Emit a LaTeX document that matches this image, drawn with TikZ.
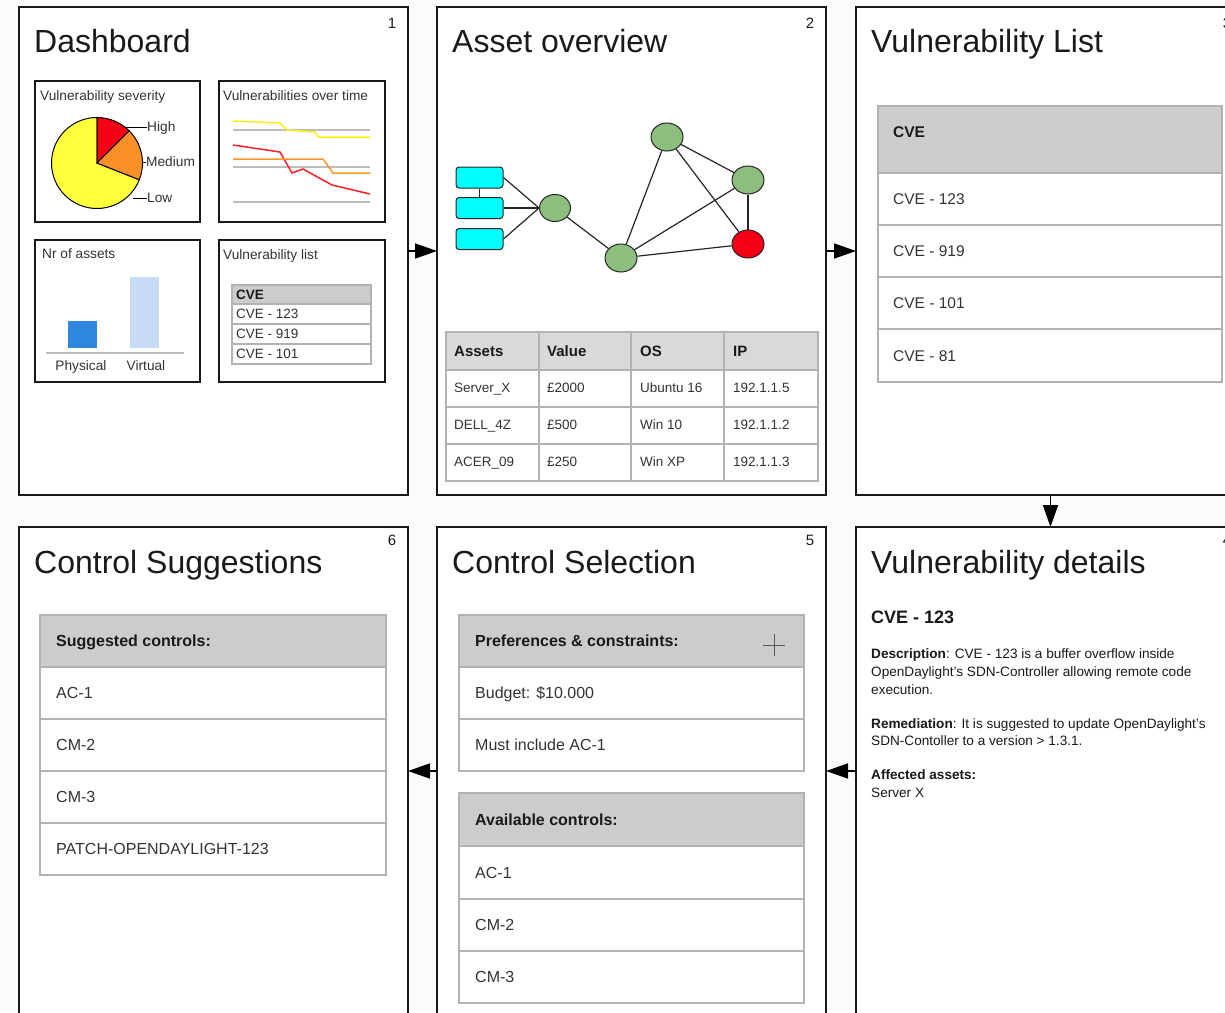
\documentclass[tikz,border=0pt]{standalone}
\usepackage{fontspec}
\setmainfont{Liberation Sans}
\usetikzlibrary{arrows.meta,shapes.geometric}
\newcommand{\setfs}[1]{\fontsize{#1}{#1}\selectfont}
\definecolor{bg}{RGB}{252,251,249}
\definecolor{txt}{RGB}{51,51,51}
\definecolor{ttl}{RGB}{26,26,26}
\definecolor{tgray}{RGB}{178,178,178}
\definecolor{hdr}{RGB}{204,204,204}
\definecolor{hdrlight}{RGB}{217,217,217}
\definecolor{pred}{RGB}{245,0,20}
\definecolor{porange}{RGB}{250,145,40}
\definecolor{pyellow}{RGB}{255,255,60}
\definecolor{ngreen}{RGB}{140,190,125}
\definecolor{ncyan}{RGB}{0,255,255}
\definecolor{bdark}{RGB}{46,134,222}
\definecolor{blight}{RGB}{198,219,245}
\definecolor{lgray}{RGB}{190,190,190}
\definecolor{lyellow}{RGB}{250,240,20}
\definecolor{lred}{RGB}{255,30,40}
\definecolor{lorange}{RGB}{255,150,40}
\begin{document}
\begin{tikzpicture}[x=1pt,y=-1pt,
  panel/.style={draw=black!90, line width=1.4pt, fill=white, minimum width=389pt, minimum height=488pt, anchor=north west, inner sep=0pt, outer sep=0pt},
  subbox/.style={draw=black!90, line width=1.3pt, fill=white, anchor=north west, inner sep=0pt, outer sep=0pt},
  ttlnode/.style={anchor=base west, inner sep=0pt, text=ttl, font=\setfs{32}},
  numnode/.style={anchor=base, inner sep=0pt, text=ttl, font=\setfs{15}},
  lbl/.style={anchor=base west, inner sep=0pt, text=txt, font=\setfs{13.7}},
  plbl/.style={anchor=west, inner sep=0pt, text=txt, font=\setfs{13.7}, text height=9.8pt, text depth=0pt},
  grid/.style={draw=tgray, line width=1.3pt},
  hd/.style={anchor=west, inner sep=0pt, text=ttl, font=\setfs{16}\bfseries, text height=11.5pt, text depth=0pt},
  rw/.style={anchor=west, inner sep=0pt, text=txt, font=\setfs{16}, text height=11.5pt, text depth=0pt},
  hds/.style={anchor=west, inner sep=0pt, text=ttl, font=\setfs{15}\bfseries, text height=10.7pt, text depth=0pt},
  rws/.style={anchor=west, inner sep=0pt, text=txt, font=\setfs{13.5}, text height=9.7pt, text depth=0pt},
  det/.style={anchor=base west, inner sep=0pt, text=ttl, font=\setfs{13.6}},
  dev/.style={rectangle, rounded corners=3pt, draw=black!85, line width=1pt, fill=ncyan, minimum width=47pt, minimum height=21pt, inner sep=0pt},
  gnode/.style={ellipse, draw=black!85, line width=1pt, fill=ngreen, minimum width=32pt, minimum height=28pt, inner sep=0pt},
  gedge/.style={draw=black!85, line width=1.2pt},
  arr/.style={-{Triangle[length=22pt,width=15pt]}, line width=1.6pt, draw=black},
]
\useasboundingbox (0,0) rectangle (1225,1012);
\clip (0,0) rectangle (1225,1012);
\fill[bg] (0,0) rectangle (1225,1012);

% ---------- panels ----------
\node[panel] (p1) at (19,7) {};
\node[panel] (p2) at (437,7) {};
\node[panel] (p3) at (856,7) {};
\node[panel] (p6) at (19,527) {};
\node[panel] (p5) at (437,527) {};
\node[panel] (p4) at (856,527) {};

% ---------- arrows ----------
\draw[arr] (p1.east) -- (p2.west);
\draw[arr] (p2.east) -- (p3.west);
\draw[arr] (p3.south) -- (p4.north);
\draw[arr] (p4.west) -- (p5.east);
\draw[arr] (p5.west) -- (p6.east);

% ---------- panel 1: Dashboard ----------
\node[ttlnode] (t1) at (34,52) {Dashboard};
\node[numnode] (n1) at (392,28) {1};

\node[subbox, minimum width=165pt, minimum height=141pt] (sb1) at (35,81) {};
\node[subbox, minimum width=166pt, minimum height=141pt] (sb2) at (219,81) {};
\node[subbox, minimum width=165pt, minimum height=142pt] (sb3) at (35,240) {};
\node[subbox, minimum width=166pt, minimum height=142pt] (sb4) at (219,240) {};

\node[lbl] (s1) at (40,100) {Vulnerability severity};
\node[lbl] (s2) at (223,100) {Vulnerabilities over time};
\node[lbl] (s3) at (42,258) {Nr of assets};
\node[lbl] (s4) at (223,259) {Vulnerability list};

% pie
\filldraw[fill=pyellow, draw=black, line width=1pt] (97,163) -- ++(21.6:45.5) arc[start angle=21.6, end angle=270, radius=45.5] -- cycle;
\filldraw[fill=pred, draw=black, line width=1pt] (97,163) -- ++(-90:45.5) arc[start angle=-90, end angle=-45, radius=45.5] -- cycle;
\filldraw[fill=porange, draw=black, line width=1pt] (97,163) -- ++(-45:45.5) arc[start angle=-45, end angle=21.6, radius=45.5] -- cycle;
\node[plbl] (lh) at (147,127) {High};
\node[plbl] (lm) at (146,162) {Medium};
\node[plbl] (ll) at (147,198) {Low};
\draw[line width=1pt] (125,127) -- (lh.west);
\draw[line width=1pt] (142.5,162) -- (lm.west);
\draw[line width=1pt] (133,198) -- (ll.west);

% line chart
\draw[lgray, line width=1.2pt] (233,130) -- (370,130);
\draw[lgray, line width=1.2pt] (233,167) -- (370,167);
\draw[lgray, line width=1.2pt] (233,202) -- (370,202);
\draw[lyellow, line width=1.5pt] (233,121) -- (280,123) -- (287,130) -- (315,132) -- (318,137) -- (370,137);
\draw[lred, line width=1.5pt] (233,145) -- (280,152) -- (292,173) -- (303,169) -- (332,185) -- (370,194);
\draw[lorange, line width=1.5pt] (233,159) -- (323,159) -- (333,173) -- (370,173);

% bar chart
\fill[bdark] (68,321) rectangle (97,348);
\fill[blight] (130,277) rectangle (159,348);
\draw[lgray, line width=1.2pt] (46,353) -- (184,353);
\node[lbl, anchor=base] (bp) at (81,370) {Physical};
\node[lbl, anchor=base] (bv) at (146,370) {Virtual};

% mini table
\fill[hdr] (232,285) rectangle (371,304);
\draw[grid, line width=1.1pt] (232,285) rectangle (371,364);
\foreach \yy in {304,324,344} \draw[grid, line width=1.1pt] (232,\yy) -- (371,\yy);
\node[hds, font=\setfs{13.5}\bfseries, text height=9.7pt] (m0) at (236,294.5) {CVE};
\node[rws] (m1) at (236,314) {CVE - 123};
\node[rws] (m2) at (236,334) {CVE - 919};
\node[rws] (m3) at (236,354) {CVE - 101};

% ---------- panel 2: Asset overview ----------
\node[ttlnode] (t2) at (452,52) {Asset overview};
\node[numnode] (n2) at (810,28) {2};

\node[dev] (r1) at (479.5,177.5) {};
\node[dev] (r2) at (479.5,208) {};
\node[dev] (r3) at (479.5,239) {};
\node[gnode, minimum width=31pt, minimum height=27pt] (gA) at (555,208) {};
\node[gnode] (gB) at (621,258) {};
\node[gnode] (gC) at (667,137) {};
\node[gnode] (gD) at (748,180) {};
\node[gnode, fill=pred] (gE) at (748,244) {};
\draw[gedge] (r1.south) -- (r2.north);
\draw[gedge] (r1.east) -- (gA.west);
\draw[gedge] (r2.east) -- (gA.west);
\draw[gedge] (r3.east) -- (gA.west);
\draw[gedge] (gA) -- (gB);
\draw[gedge] (gB) -- (gC);
\draw[gedge] (gB) -- (gD);
\draw[gedge] (gB) -- (gE);
\draw[gedge] (gC) -- (gD);
\draw[gedge] (gC) -- (gE);
\draw[gedge] (gD) -- (gE);

% asset table
\fill[hdrlight] (446,332) rectangle (818,370);
\draw[grid] (446,332) rectangle (818,481);
\foreach \yy in {370,407,444} \draw[grid] (446,\yy) -- (818,\yy);
\foreach \xx in {539,631,724} \draw[grid] (\xx,332) -- (\xx,481);
\foreach \t/\xx [count=\i] in {Assets/454, Value/547, OS/640, IP/733}
  \node[hds] (ah\i) at (\xx,351) {\t};
\foreach \a/\b/\c/\d [count=\r] in {Server\_X/£2000/Ubuntu 16/192.1.1.5, DELL\_4Z/£500/Win 10/192.1.1.2, ACER\_09/£250/Win XP/192.1.1.3} {
  \pgfmathsetmacro\yy{351+37*\r}
  \node[rws] (a\r a) at (454,\yy) {\a};
  \node[rws] (a\r b) at (547,\yy) {\b};
  \node[rws] (a\r c) at (640,\yy) {\c};
  \node[rws] (a\r d) at (733,\yy) {\d};
}

% ---------- panel 3: Vulnerability List ----------
\node[ttlnode] (t3) at (871,52) {Vulnerability List};
\node[numnode] (n3) at (1227,28) {3};
\fill[hdr] (878,106) rectangle (1222,173);
\draw[grid] (878,106) rectangle (1222,382);
\foreach \yy in {173,225,277,329} \draw[grid] (878,\yy) -- (1222,\yy);
\node[hd, font=\setfs{15.5}\bfseries, text height=11.1pt] (vh) at (893,132) {CVE};
\foreach \t/\yy [count=\i] in {CVE - 123/199, CVE - 919/251, CVE - 101/303, CVE - 81/355.5}
  \node[rw, font=\setfs{15.5}, text height=11.1pt] (v\i) at (893,\yy) {\t};

% ---------- panel 4: Vulnerability details ----------
\node[ttlnode] (t4) at (871,573) {Vulnerability details};
\node[numnode] (n4) at (1227,545) {4};
\node[anchor=base west, inner sep=0pt, text=ttl, font=\setfs{18}\bfseries] (dc) at (871,623.5) {CVE - 123};
\node[det] (d1) at (871,658) {\textbf{Description}: CVE - 123 is a buffer overflow inside};
\node[det] (d2) at (871,676) {OpenDaylight's SDN-Controller allowing remote code};
\node[det] (d3) at (871,694) {execution.};
\node[det] (d4) at (871,728) {\textbf{Remediation}: It is suggested to update OpenDaylight's};
\node[det] (d5) at (871,745) {SDN-Contoller to a version > 1.3.1.};
\node[det] (d6) at (871,779) {\textbf{Affected assets:}};
\node[det] (d7) at (871,797) {Server X};

% ---------- panel 5: Control Selection ----------
\node[ttlnode] (t5) at (452,573) {Control Selection};
\node[numnode] (n5) at (810,545) {5};
\fill[hdr] (459,615) rectangle (804,667);
\draw[grid] (459,615) rectangle (804,771);
\foreach \yy in {667,719} \draw[grid] (459,\yy) -- (804,\yy);
\node[hd] (ph) at (475,641) {Preferences \& constraints:};
\draw[black!65, line width=1pt] (763,645) -- (785,645) (774,634) -- (774,656);
\node[rw] (pr1) at (475,693) {Budget: \$10.000};
\node[rw] (pr2) at (475,745) {Must include AC-1};

\fill[hdr] (459,793) rectangle (804,846);
\draw[grid] (459,793) rectangle (804,1003);
\foreach \yy in {846,899,951} \draw[grid] (459,\yy) -- (804,\yy);
\node[hd] (ach) at (475,819.5) {Available controls:};
\node[rw] (ac1) at (475,872.5) {AC-1};
\node[rw] (ac2) at (475,925) {CM-2};
\node[rw] (ac3) at (475,977) {CM-3};

% ---------- panel 6: Control Suggestions ----------
\node[ttlnode] (t6) at (34,573) {Control Suggestions};
\node[numnode] (n6) at (392,545) {6};
\fill[hdr] (40,615) rectangle (386,667);
\draw[grid] (40,615) rectangle (386,875);
\foreach \yy in {667,719,771,823} \draw[grid] (40,\yy) -- (386,\yy);
\node[hd] (sh) at (56,641) {Suggested controls:};
\node[rw] (sc1) at (56,693) {AC-1};
\node[rw] (sc2) at (56,745) {CM-2};
\node[rw] (sc3) at (56,797) {CM-3};
\node[rw] (sc4) at (56,849) {PATCH-OPENDAYLIGHT-123};
\end{tikzpicture}
\end{document}
